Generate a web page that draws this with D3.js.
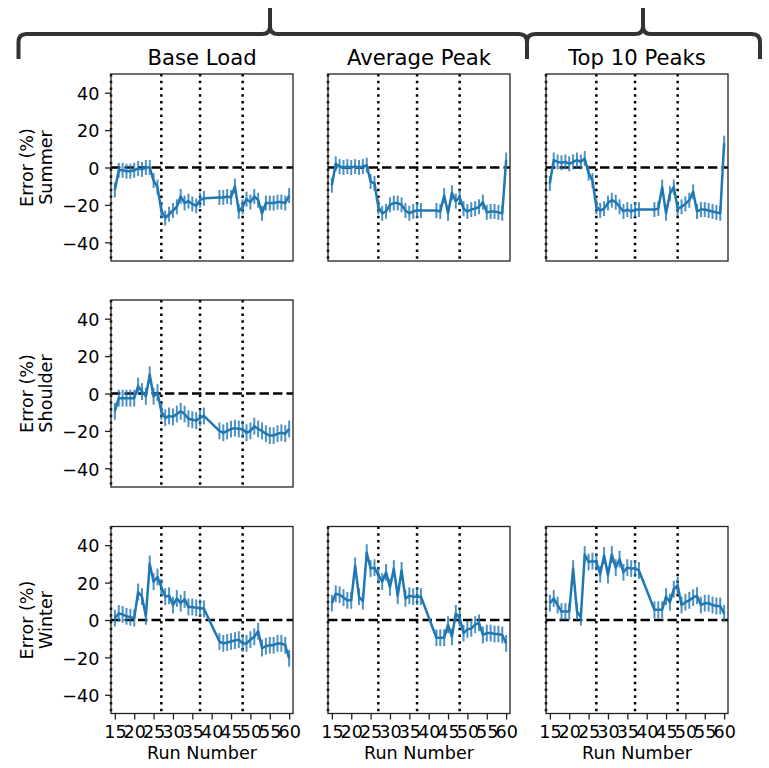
<!DOCTYPE html>
<html>
<head>
<meta charset="utf-8">
<script src="https://cdn.jsdelivr.net/npm/d3@7"></script>
<style>
  body { margin: 0; background: #fff; }
  text { font-family: "DejaVu Sans", sans-serif; fill: #000; }
</style>
</head>
<body>
<svg id="fig" width="769" height="768"></svg>
<script>
// Run numbers shared by every panel (runs 39-41 were not measured)
const runs = [15,16,17,18,19,20,21,22,23,24,25,26,27,28,29,30,31,32,33,34,35,36,37,38,
              42,43,44,45,46,47,48,49,50,51,52,53,54,55,56,57,58,59,60];

// Percentage error per run
const summerBase = [-12,-1.5,-1.5,-2,-2,-1.5,-0.5,-1,0,0,-7,-10.5,-23,-27,-25,-23,-21,-15.5,-19,-18,-19.5,-20.5,-17.5,-16.5,
                    -16,-16,-15.5,-16,-10,-23.5,-21,-17,-18.5,-15.5,-17.5,-24.5,-19,-19,-19,-18.5,-18.5,-19,-15];
const summerAvgPeak = [-9.5,2,0.5,0,0.5,0,0.5,0,0.5,1.2,-7.5,-8.5,-21,-24.5,-23.5,-20,-19,-19,-20,-23,-24.5,-23.5,-23,-23,
                       -23,-23.5,-15,-24.5,-13.5,-18,-16,-22,-23.5,-22.5,-22,-21,-18.5,-24,-23.5,-23.5,-24,-24.5,4];
const summerTop10 = [-8.5,4,3,2.5,3,2,3,4,3,4.8,-3,-7,-21,-23,-22,-19,-17.5,-18.5,-21,-23.5,-22.5,-23.5,-22.5,-22.5,
                     -22.5,-22,-10.5,-24.5,-14,-10.5,-22,-21,-19.5,-17.5,-13,-23.5,-22.5,-22.5,-23,-23.5,-24,-24.5,13];
const shoulderBase = [-9.5,-2.5,-2.5,-2.5,-2.5,-2.5,4,1,-1.5,10,-1.5,0.5,-9.5,-13,-12,-12.5,-11,-9.5,-11,-13.5,-14,-14.5,-13,-12,
                      -20,-21,-20,-19,-18.5,-19,-19,-21,-20,-17.5,-19,-20,-21.5,-22.5,-22.5,-21.5,-21,-21.5,-19];
const winterBase = [1,3.5,3,2,1.5,1,15,12.5,2,30,20.5,23,17.5,12.5,13,8,11.5,9,11,7,7,6.5,6.5,6,
                    -11.5,-12.5,-12,-11.5,-11,-10.5,-12.5,-12.5,-10.5,-9,-6,-15,-14,-13.5,-13.5,-12.5,-12.5,-13.5,-20.5];
const winterAvgPeak = [9,14,13.5,12,10.5,10.5,29,12.5,10,36,27.5,28,24,20.5,25.5,17.5,27.5,13,26.5,11.5,13,12.5,12.5,12.5,
                       -9.5,-9.5,-9.5,-2.5,-9,3.5,1,-7,-5,-4.5,-2.5,-1.5,-8,-7,-7,-7.5,-7.5,-8,-12.5];
const winterTop10 = [9,11.5,8,4.5,4.5,4.5,27.5,4.5,1.5,35,31,31.5,31,24.5,34.5,24,35,28,32.5,25.5,28,27.5,27.5,26.5,
                     5.5,5.5,5.5,12.5,9.5,16.5,18.5,8,9.5,10.5,12,13,8,9,9,8,7.5,7.5,3.5];

// Half-width of the error bars (percentage points)
const errSummer = 4;
const errShoulder = 4.5;
const errWinter = 4.5;

// Vertical phase boundaries (run numbers)
const phaseRuns = [14, 27, 37, 48];

const xTicks = [15,20,25,30,35,40,45,50,55,60];
const yTicks = [-40,-20,0,20,40];
const xDomain = [14, 61];
const yDomain = [-50, 50];

const columnTitles = ["Base Load", "Average Peak", "Top 10 Peaks"];
const rowNames = ["Summer", "Shoulder", "Winter"];
const yLabelTop = "Error (%)";
const xLabel = "Run Number";

// Panel grid
const panels = [
  { row: 0, col: 0, values: summerBase,    err: errSummer },
  { row: 0, col: 1, values: summerAvgPeak, err: errSummer },
  { row: 0, col: 2, values: summerTop10,   err: errSummer },
  { row: 1, col: 0, values: shoulderBase,  err: errShoulder },
  { row: 2, col: 0, values: winterBase,    err: errWinter },
  { row: 2, col: 1, values: winterAvgPeak, err: errWinter },
  { row: 2, col: 2, values: winterTop10,   err: errWinter }
];

const colLeft = [111, 328, 546];
const rowTop = [74, 300, 526.5];
const pw = 182, ph = 187;
const blue = "#1f77b4";
const spineColor = "#222";
const labelSize = 17.6;
const titleSize = 21.2;

const svg = d3.select("#fig");
const x = d3.scaleLinear().domain(xDomain).range([0, pw]);
const y = d3.scaleLinear().domain(yDomain).range([ph, 0]);

panels.forEach(p => {
  const g = svg.append("g").attr("transform", `translate(${colLeft[p.col]},${rowTop[p.row]})`);
  const pts = runs.map((r, i) => ({ r, v: p.values[i] }));

  // phase boundaries
  g.selectAll("line.phase").data(phaseRuns).join("line")
    .attr("class", "phase")
    .attr("x1", d => x(d)).attr("x2", d => x(d))
    .attr("y1", 0).attr("y2", ph)
    .attr("stroke", "#000").attr("stroke-width", 2.5)
    .attr("stroke-dasharray", "2.55,4.2");

  // zero-error reference
  g.append("line")
    .attr("x1", 0).attr("x2", pw)
    .attr("y1", y(0)).attr("y2", y(0))
    .attr("stroke", "#000").attr("stroke-width", 2.5)
    .attr("stroke-dasharray", "9.4,4.1");

  // error bars
  g.selectAll("line.err").data(pts).join("line")
    .attr("class", "err")
    .attr("x1", d => x(d.r)).attr("x2", d => x(d.r))
    .attr("y1", d => y(d.v - p.err)).attr("y2", d => y(d.v + p.err))
    .attr("stroke", blue).attr("stroke-width", 2).attr("stroke-opacity", 0.8);

  // series line
  g.append("path").datum(pts)
    .attr("fill", "none").attr("stroke", blue).attr("stroke-width", 2.5)
    .attr("stroke-linejoin", "round")
    .attr("d", d3.line().x(d => x(d.r)).y(d => y(d.v)));

  // y axis on the first column
  if (p.col === 0) {
    const ay = g.append("g").call(d3.axisLeft(y).tickValues(yTicks).tickSize(6).tickPadding(5.5));
    ay.select(".domain").remove();
    ay.selectAll(".tick line").attr("stroke", spineColor).attr("stroke-width", 1.3);
    ay.selectAll(".tick text").attr("font-size", labelSize).attr("font-family", "DejaVu Sans").attr("dy", "0.38em");

    const cy = ph / 2;
    const lab = g.append("text")
      .attr("transform", `translate(${32.5 - colLeft[0]},${cy}) rotate(-90)`)
      .attr("text-anchor", "middle").attr("font-size", labelSize);
    lab.append("tspan").attr("x", 0).attr("dy", 0).text(yLabelTop);
    lab.append("tspan").attr("x", 0).attr("dy", 19).text(rowNames[p.row]);
  }

  // x axis on the bottom row
  if (p.row === 2) {
    const ax = g.append("g").attr("transform", `translate(0,${ph})`)
      .call(d3.axisBottom(x).tickValues(xTicks).tickSize(6).tickPadding(6));
    ax.select(".domain").remove();
    ax.selectAll(".tick line").attr("stroke", spineColor).attr("stroke-width", 1.3);
    ax.selectAll(".tick text").attr("font-size", labelSize).attr("font-family", "DejaVu Sans");

    g.append("text").attr("x", pw / 2).attr("y", 759 - rowTop[2])
      .attr("text-anchor", "middle").attr("font-size", labelSize).text(xLabel);
  }

  // column titles above the top row
  if (p.row === 0) {
    g.append("text").attr("x", pw / 2).attr("y", 64.5 - rowTop[0])
      .attr("text-anchor", "middle").attr("font-size", titleSize).text(columnTitles[p.col]);
  }

  // frame
  g.append("rect").attr("width", pw).attr("height", ph)
    .attr("fill", "none").attr("stroke", spineColor).attr("stroke-width", 1.3);
});

// Curly braces grouping the columns
const braces = [
  { x1: 18.5, x2: 527, xc: 270 },
  { x1: 527, x2: 760, xc: 643 }
];
const yBase = 34, yEnd = 59, yTop = 8, rc = 8;
braces.forEach(b => {
  const path = d3.path();
  path.moveTo(b.x1, yEnd);
  path.lineTo(b.x1, yBase + rc);
  path.quadraticCurveTo(b.x1, yBase, b.x1 + rc, yBase);
  path.lineTo(b.xc - rc, yBase);
  path.quadraticCurveTo(b.xc, yBase, b.xc, yBase - rc);
  path.lineTo(b.xc, yTop);
  path.moveTo(b.xc, yBase - rc);
  path.quadraticCurveTo(b.xc, yBase, b.xc + rc, yBase);
  path.lineTo(b.x2 - rc, yBase);
  path.quadraticCurveTo(b.x2, yBase, b.x2, yBase + rc);
  path.lineTo(b.x2, yEnd);
  svg.append("path").attr("d", path.toString())
    .attr("fill", "none").attr("stroke", "#333").attr("stroke-width", 4);
});
</script>
</body>
</html>
